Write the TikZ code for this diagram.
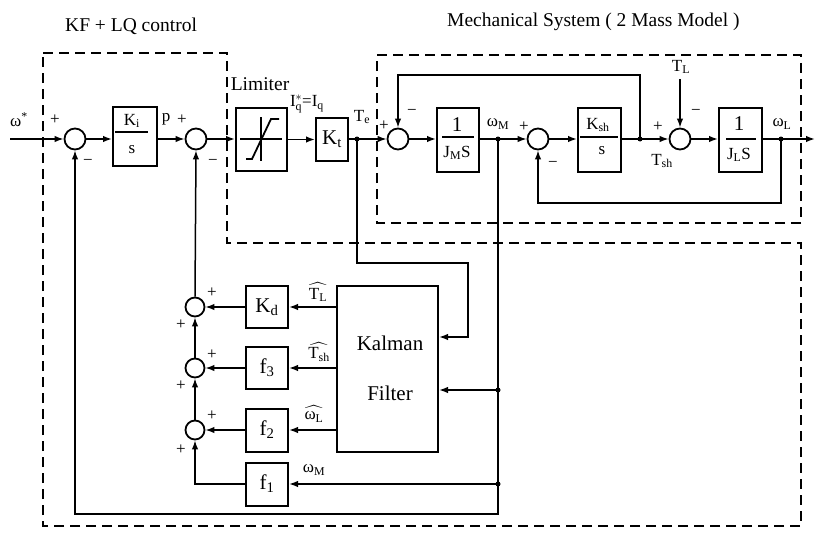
\documentclass[tikz,border=0pt]{standalone}
\usepackage{fontspec}
\setmainfont{Liberation Serif}
\usepackage{amsmath}
\usetikzlibrary{arrows.meta}
\begin{document}
\begin{tikzpicture}[x=1pt,y=-1pt,
 ln/.style={line width=1.5pt},
 arr/.style={line width=1.5pt,-{Latex[length=9pt,width=6.5pt]}},
 blk/.style={draw,line width=2pt,inner sep=0pt},
 sumn/.style={circle,draw,line width=1.8pt,minimum size=21pt,inner sep=0pt},
 fsum/.style={sumn,minimum size=19pt},
 dsh/.style={line width=2.6pt,dash pattern=on 10pt off 6pt},
 jdot/.style={circle,fill,inner sep=0pt,minimum size=5pt},
 lbl/.style={inner sep=0pt,font=\fontsize{17}{19}\selectfont},
 sgn/.style={inner sep=0pt,font=\fontsize{17}{19}\selectfont},
 ttl/.style={inner sep=0pt,font=\fontsize{19.5}{22}\selectfont},
 bigt/.style={font=\fontsize{21}{24}\selectfont},
 frc/.style={inner sep=0pt,font=\fontsize{17}{19}\selectfont},
 one/.style={inner sep=0pt,font=\fontsize{21}{24}\selectfont},
]
\useasboundingbox (0,0) rectangle (816,535);

% titles
\node[ttl,anchor=west] (t1) at (65,26) {KF + LQ control};
\node[ttl,anchor=west] (t2) at (447,22) {Mechanical System ( 2 Mass Model )};

% dashed boundaries
\draw[dsh] (43,53) -- (227,53) -- (227,243) -- (801,243) -- (801,526) -- (43,526) -- cycle;
\draw[dsh] (377,55) -- (801,55) -- (801,223) -- (377,223) -- cycle;

% main row
\coordinate (win) at (10,139);
\node[sumn] (s1) at (75,139) {};
\node[blk,minimum width=44pt,minimum height=59pt] (ki) at (135,136) {};
\node[sumn] (s2) at (196,139) {};
\node[blk,minimum width=51pt,minimum height=63pt] (lim) at (261.5,139) {};
\node[blk,bigt,minimum width=32pt,minimum height=43pt] (kt) at (332,139.5) {K\textsubscript{t}};
\coordinate (te) at (357,139);
\node[sumn] (s3) at (398,139) {};
\node[blk,minimum width=42pt,minimum height=64pt] (jm) at (458,140) {};
\coordinate (wm) at (498,139);
\node[sumn] (s4) at (538,139) {};
\node[blk,minimum width=43pt,minimum height=64pt] (ksh) at (599.5,140) {};
\coordinate (tsh) at (640,139);
\node[sumn] (s5) at (680,139) {};
\node[blk,minimum width=43pt,minimum height=64pt] (jl) at (740.5,140) {};
\coordinate (wl) at (781,139);
\coordinate (wout) at (815,139);

% fraction contents
\node[frc] (kin) at (132,121) {K\textsubscript{i}};
\draw[ln] (115,132) -- (148,132);
\node[frc] (kis) at (132,150) {s};
\node[one] (jm1) at (457,125) {1};
\draw[ln] (442,137) -- (474,137);
\node[frc] (jmd) at (457,153) {J\textsubscript{M}S};
\node[frc] (kshn) at (598,125) {K\textsubscript{sh}};
\draw[ln] (580,137) -- (618,137);
\node[frc] (kshd) at (602,151) {s};
\node[one] (jl1) at (739,124) {1};
\draw[ln] (726,139) -- (756,139);
\node[frc] (jld) at (739,155) {J\textsubscript{L}S};

% limiter graphic
\draw[ln] (240,139) -- (282,139);
\draw[ln] (261,117) -- (261,161);
\draw[line width=1.8pt] (246,159) -- (252,159) -- (271,119) -- (279,119);

% feedback column
\node[fsum] (sa) at (195,307) {};
\node[fsum] (sb) at (195,368) {};
\node[fsum] (sc) at (195,430) {};
\node[blk,bigt,minimum width=42pt,minimum height=42pt] (kd) at (267,307) {K\textsubscript{d}};
\node[blk,bigt,minimum width=42pt,minimum height=42pt] (f3) at (267,368) {f\textsubscript{3}};
\node[blk,bigt,minimum width=42pt,minimum height=43pt] (f2) at (267,430) {f\textsubscript{2}};
\node[blk,bigt,minimum width=42pt,minimum height=43pt] (f1) at (267,484) {f\textsubscript{1}};
\node[blk,minimum width=101pt,minimum height=166pt] (kf) at (387.5,369) {};
\node[bigt,inner sep=0pt] (kft1) at (390,343) {Kalman};
\node[bigt,inner sep=0pt] (kft2) at (390,393) {Filter};

% main connectors
\draw[arr] (win) -- (s1.west);
\draw[arr] (s1.east) -- (s1.east -| ki.west);
\draw[arr] (ki.east |- s2) -- (s2.west);
\draw[arr] (s2.east) -- (s2.east -| lim.west);
\draw[arr] (lim.east |- kt) -- (kt.west);
\draw[ln] (kt.east |- te) -- (te);
\draw[arr] (te) -- (s3.west);
\draw[arr] (s3.east) -- (s3.east -| jm.west);
\draw[ln] (jm.east |- wm) -- (wm);
\draw[arr] (wm) -- (s4.west);
\draw[arr] (s4.east) -- (s4.east -| ksh.west);
\draw[ln] (ksh.east |- tsh) -- (tsh);
\draw[arr] (tsh) -- (s5.west);
\draw[arr] (s5.east) -- (s5.east -| jl.west);
\draw[ln] (jl.east |- wl) -- (wl);
\draw[arr] (wl) -- (wout);

% mechanical feedbacks
\coordinate (ftop) at (640,75);
\draw[arr] (tsh) -- (ftop) -| (s3.north);
\coordinate (tl) at (680,79);
\draw[arr] (tl) -- (s5.north);
\coordinate (fbl) at (781,203);
\draw[arr] (wl) -- (fbl) -| (s4.south);

% signals to Kalman filter
\coordinate (tec) at (357,263);
\coordinate (tek) at (468,263);
\coordinate (tek2) at (468,337);
\draw[arr] (te) -- (tec) -- (tek) -- (tek2) -- (tek2 -| kf.east);
\coordinate (wb) at (498,514);
\draw[arr] (wm) -- (wb) -| (s1.south);
\coordinate (j1) at (498,390);
\coordinate (j2) at (498,484);
\draw[arr] (j1) -- (j1 -| kf.east);
\draw[arr] (j2) -- (f1.east);

% Kalman outputs
\draw[arr] (kd -| kf.west) -- (kd.east);
\draw[arr] (f3 -| kf.west) -- (f3.east);
\draw[arr] (f2 -| kf.west) -- (f2.east);
\draw[arr] (kd.west) -- (sa.east);
\draw[arr] (f3.west) -- (sb.east);
\draw[arr] (f2.west) -- (sc.east);
\draw[arr] (f1.west) -| (sc.south);
\draw[arr] (sc.north) -- (sb.south);
\draw[arr] (sb.north) -- (sa.south);
\draw[arr] (sa.north) -- (s2.south);

% junction dots
\foreach \p in {te,wm,tsh,wl,j1,j2} \node[jdot] at (\p) {};

% labels
\node[lbl] (lw) at (19,120) {ω\textsuperscript{*}};
\node[sgn] (p1) at (55,120) {+};
\node[sgn] (m1) at (88,162) {−};
\node[lbl] (lp) at (166,119) {p};
\node[sgn] (p2) at (182,120) {+};
\node[sgn] (m2) at (213,162) {−};
\node[ttl] (llim) at (260,84) {Limiter};
\node[lbl] (liq) at (307,104) {$\text{I}^{*}_{\text{q}}\text{=I}_{\text{q}}$};
\node[lbl] (lte) at (362,117) {T\textsubscript{e}};
\node[sgn] (p3) at (384,126) {+};
\node[sgn] (m3) at (412,112) {−};
\node[lbl] (lwm) at (498,124) {ω\textsubscript{M}};
\node[sgn] (p4) at (524,127) {+};
\node[sgn] (m4) at (553,164) {−};
\node[lbl] (ltl) at (681,67) {T\textsubscript{L}};
\node[sgn] (p5) at (658,127) {+};
\node[sgn] (m5) at (696,112) {−};
\node[lbl] (ltsh) at (662,161) {T\textsubscript{sh}};
\node[lbl] (lwl) at (782,124) {ω\textsubscript{L}};

\node[lbl] (htl) at (318,292) {$\widehat{\text{T\textsubscript{L}}}$};
\node[lbl] (htsh) at (319,352) {$\widehat{\text{T\textsubscript{sh}}}$};
\node[lbl] (hwl) at (314,414) {$\widehat{\text{ω\textsubscript{L}}}$};
\node[lbl] (lwm2) at (314,470) {ω\textsubscript{M}};

\node[sgn] (pa) at (212,293) {+};
\node[sgn] (pb) at (212,355) {+};
\node[sgn] (pc) at (212,416) {+};
\node[sgn] (qa) at (181,325) {+};
\node[sgn] (qb) at (181,386) {+};
\node[sgn] (qc) at (181,450) {+};
\end{tikzpicture}
\end{document}
